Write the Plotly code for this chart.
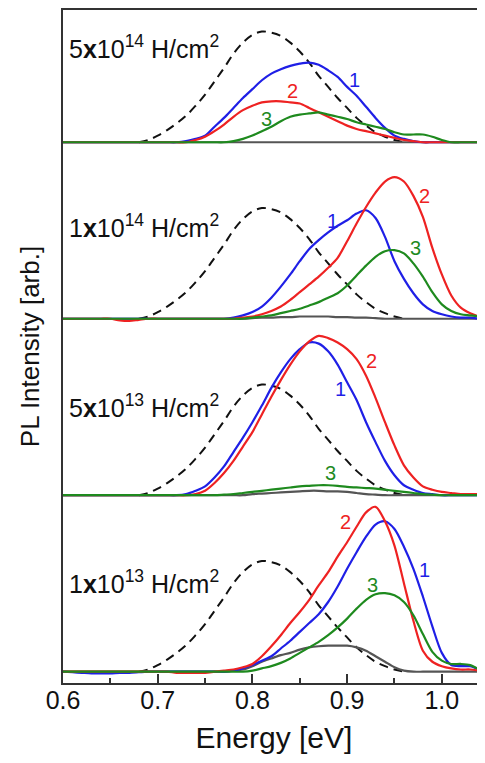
import plotly.graph_objects as go

# Energy grid (eV)
energy = [0.60, 0.61, 0.62, 0.63, 0.64, 0.65, 0.66, 0.67, 0.68, 0.69,
          0.70, 0.71, 0.72, 0.73, 0.74, 0.75, 0.76, 0.77, 0.78, 0.79,
          0.80, 0.81, 0.82, 0.83, 0.84, 0.85, 0.86, 0.87, 0.88, 0.89,
          0.90, 0.91, 0.92, 0.93, 0.94, 0.95, 0.96, 0.97, 0.98, 0.99,
          1.00, 1.01, 1.02, 1.03, 1.04, 1.05]

# Reference spectrum (dashed), identical in every panel
ref_energy = [0.68, 0.69, 0.70, 0.71, 0.72, 0.73, 0.74, 0.75, 0.76, 0.77,
              0.78, 0.79, 0.80, 0.81, 0.82, 0.83, 0.84, 0.85, 0.86, 0.87,
              0.88, 0.89, 0.90, 0.91, 0.92, 0.93, 0.94, 0.95, 0.96]
ref_dashed = [0.0, 0.02, 0.06, 0.11, 0.17, 0.24, 0.33, 0.43, 0.55, 0.67,
              0.80, 0.90, 0.97, 1.00, 0.99, 0.96, 0.90, 0.82, 0.72, 0.60,
              0.50, 0.40, 0.31, 0.22, 0.15, 0.09, 0.05, 0.02, 0.0]

# Panel labels (dose), top to bottom
doses = ["5<b>x</b>10<sup>14</sup> H/cm<sup>2</sup>",
         "1<b>x</b>10<sup>14</sup> H/cm<sup>2</sup>",
         "5<b>x</b>10<sup>13</sup> H/cm<sup>2</sup>",
         "1<b>x</b>10<sup>13</sup> H/cm<sup>2</sup>"]

# Panel 1: 5x10^14
p1_blue = [0]*13 + [0.01, 0.03, 0.06, 0.14, 0.22, 0.31, 0.40, 0.48, 0.56, 0.62,
                    0.66, 0.69, 0.71, 0.72, 0.70, 0.65, 0.59, 0.50, 0.42, 0.32,
                    0.22, 0.13, 0.06, 0.03, 0.01] + [0]*8
p1_red = [0]*14 + [0.02, 0.05, 0.10, 0.16, 0.23, 0.29, 0.33, 0.36, 0.37, 0.37,
                   0.36, 0.35, 0.31, 0.27, 0.23, 0.19, 0.15, 0.12, 0.10, 0.08,
                   0.06, 0.04, 0.02, 0.01] + [0]*8
p1_green = [0]*18 + [0.01, 0.03, 0.06, 0.10, 0.14, 0.19, 0.23, 0.25, 0.26, 0.27,
                     0.25, 0.23, 0.21, 0.18, 0.16, 0.14, 0.12, 0.09, 0.07, 0.07,
                     0.07, 0.05, 0.02, 0.0] + [0]*4
p1_gray = [0]*46

# Panel 2: 1x10^14
p2_blue = [0]*17 + [0.0, 0.01, 0.03, 0.06, 0.11, 0.19, 0.29, 0.40, 0.52, 0.63,
                    0.71, 0.78, 0.84, 0.89, 0.95, 0.98, 0.91, 0.74, 0.52, 0.36,
                    0.23, 0.13, 0.07, 0.04, 0.02, 0.01, 0.01, 0.0, 0.0]
p2_red = [0]*5 + [0.0, -0.015, -0.02, -0.01] + [0]*10 + \
         [0.01, 0.02, 0.04, 0.07, 0.11, 0.17, 0.24, 0.31, 0.38, 0.46,
          0.55, 0.70, 0.86, 1.01, 1.14, 1.24, 1.28, 1.24, 1.11, 0.92,
          0.64, 0.40, 0.21, 0.10, 0.05, 0.02, 0.01]
p2_green = [0]*20 + [0.01, 0.02, 0.03, 0.05, 0.07, 0.09, 0.12, 0.15, 0.19, 0.23,
                     0.30, 0.39, 0.48, 0.56, 0.61, 0.62, 0.59, 0.50, 0.38, 0.24,
                     0.13, 0.07, 0.04, 0.03, 0.02, 0.01]
p2_gray = [0]*20 + [0.005, 0.01, 0.01, 0.015, 0.015, 0.02, 0.02, 0.02, 0.02, 0.015,
                    0.015, 0.01, 0.01, 0.005] + [0]*12

# Panel 3: 5x10^13
p3_blue = [0]*13 + [0.01, 0.04, 0.08, 0.16, 0.26, 0.39, 0.52, 0.66, 0.81, 0.97,
                    1.11, 1.23, 1.32, 1.38, 1.37, 1.30, 1.18, 1.02, 0.86, 0.66,
                    0.48, 0.31, 0.18, 0.09, 0.05, 0.02, 0.01] + [0]*6
p3_red = [0]*14 + [0.01, 0.04, 0.11, 0.20, 0.31, 0.44, 0.57, 0.73, 0.89, 1.04,
                   1.18, 1.30, 1.39, 1.44, 1.42, 1.38, 1.32, 1.23, 1.08, 0.88,
                   0.66, 0.45, 0.27, 0.16, 0.08, 0.05, 0.03, 0.02, 0.01, 0.01,
                   0.01, 0.0]
p3_green = [0]*17 + [0.005, 0.01, 0.02, 0.03, 0.04, 0.05, 0.06, 0.07, 0.08, 0.085,
                     0.09, 0.09, 0.085, 0.075, 0.07, 0.065, 0.06, 0.05, 0.04, 0.03,
                     0.02, 0.01, 0.005] + [0]*6
p3_gray = [0]*20 + [0.01, 0.015, 0.02, 0.025, 0.03, 0.035, 0.04, 0.04, 0.035, 0.035,
                    0.03, 0.02, 0.01, 0.005] + [0]*12

# Panel 4: 1x10^13
p4_blue = [0.0, -0.005, -0.01, -0.015, -0.015, -0.015, -0.01, -0.01, -0.005] + [0]*9 + \
          [0.01, 0.03, 0.06, 0.10, 0.14, 0.21, 0.28, 0.36, 0.44, 0.52,
           0.63, 0.77, 0.93, 1.08, 1.22, 1.33, 1.36, 1.29, 1.13, 0.93,
           0.68, 0.41, 0.17, 0.06, 0.05, 0.05, 0.02, 0.01]
p4_red = [0]*12 + [-0.01, -0.01, -0.01, -0.01] + \
         [0.0, 0.01, 0.02, 0.04, 0.07, 0.14, 0.23, 0.33, 0.44, 0.54,
          0.65, 0.78, 0.90, 1.04, 1.17, 1.31, 1.44, 1.49, 1.36, 1.14,
          0.80, 0.46, 0.19, 0.09, 0.05, 0.03, 0.02, 0.02, 0.01, 0.0]
p4_green = [0]*20 + [0.01, 0.03, 0.05, 0.08, 0.12, 0.17, 0.22, 0.27, 0.33, 0.40,
                     0.48, 0.57, 0.65, 0.70, 0.71, 0.69, 0.63, 0.51, 0.34, 0.18,
                     0.10, 0.07, 0.07, 0.06, 0.02, 0.01]
p4_gray = [0]*18 + [0.01, 0.02, 0.05, 0.09, 0.12, 0.15, 0.17, 0.20, 0.22, 0.23,
                    0.235, 0.235, 0.235, 0.22, 0.19, 0.14, 0.09, 0.04, 0.01] + [0]*9

panels = [
    dict(blue=p1_blue, red=p1_red, green=p1_green, gray=p1_gray),
    dict(blue=p2_blue, red=p2_red, green=p2_green, gray=p2_gray),
    dict(blue=p3_blue, red=p3_red, green=p3_green, gray=p3_gray),
    dict(blue=p4_blue, red=p4_red, green=p4_green, gray=p4_gray),
]

# layout parameters
offsets = [4.785, 3.19, 1.595, 0.0]
colors = dict(blue="#1f1fe6", red="#ee2222", green="#1e8a1e", gray="#555555")
label_pos = [(0.604, 0.862), (0.604, 0.835), (0.604, 0.808), (0.604, 0.809)]
num_labels = [
    [("1", "blue", 0.908, 0.564), ("2", "red", 0.842, 0.465), ("3", "green", 0.815, 0.213)],
    [("1", "blue", 0.885, 0.880), ("2", "red", 0.982, 1.105), ("3", "green", 0.972, 0.637)],
    [("1", "blue", 0.893, 0.962), ("2", "red", 0.926, 1.214), ("3", "green", 0.882, 0.205)],
    [("1", "blue", 0.982, 0.917), ("2", "red", 0.898, 1.349), ("3", "green", 0.927, 0.782)],
]

FONT = "Arial, Liberation Sans, sans-serif"
fig = go.Figure()
annotations = []
for i, pdata in enumerate(panels):
    off = offsets[i]
    fig.add_trace(go.Scatter(x=ref_energy, y=[v + off for v in ref_dashed], mode="lines",
                             line=dict(color="#111111", width=2, dash="9px,6px", shape="spline"),
                             showlegend=False, hoverinfo="skip"))
    for key in ["gray", "blue", "red", "green"]:
        fig.add_trace(go.Scatter(x=energy, y=[v + off for v in pdata[key]], mode="lines",
                                 line=dict(color=colors[key], width=2.2, shape="spline", smoothing=0.8),
                                 showlegend=False, hoverinfo="skip"))
    lx, ly = label_pos[i]
    annotations.append(dict(x=lx, y=ly + off, xref="x", yref="y", text=doses[i], showarrow=False,
                            xanchor="left", yanchor="middle", font=dict(size=25, color="#111111", family=FONT)))
    for txt, key, nx, ny in num_labels[i]:
        annotations.append(dict(x=nx, y=ny + off, xref="x", yref="y", text=txt, showarrow=False,
                                xanchor="center", yanchor="middle",
                                font=dict(size=20, color=colors[key], family=FONT)))

# The page body has an 8px default margin; the figure is sized/margined to compensate.
fig.update_layout(
    width=477, height=755,
    margin=dict(l=55, r=0, t=0, b=80),
    paper_bgcolor="white", plot_bgcolor="white",
    annotations=annotations,
    font=dict(family=FONT, color="#111111"),
    xaxis=dict(range=[0.6, 1.0456], tickvals=[0.6, 0.7, 0.8, 0.9, 1.0],
               ticktext=["0.6", "0.7", "0.8", "0.9", "1.0"],
               ticks="inside", ticklen=9, tickwidth=2, tickcolor="#333333",
               minor=dict(tickvals=[0.65, 0.75, 0.85, 0.95], ticks="inside", ticklen=5,
                          tickwidth=2, tickcolor="#333333"),
               showline=True, linecolor="#333333", linewidth=2, mirror=True,
               showgrid=False, zeroline=False, ticklabelstandoff=-6,
               tickfont=dict(size=25, family=FONT, color="#111111"),
               title=dict(text="Energy [eV]", font=dict(size=30, family=FONT, color="#111111"),
                          standoff=14)),
    yaxis=dict(range=[-0.102, 5.98], showticklabels=False, ticks="",
               showline=True, linecolor="#333333", linewidth=2,
               showgrid=False, zeroline=False,
               title=dict(text="PL Intensity [arb.]", font=dict(size=26, family=FONT, color="#111111"),
                          standoff=14)),
)

fig.write_html("out.html")
